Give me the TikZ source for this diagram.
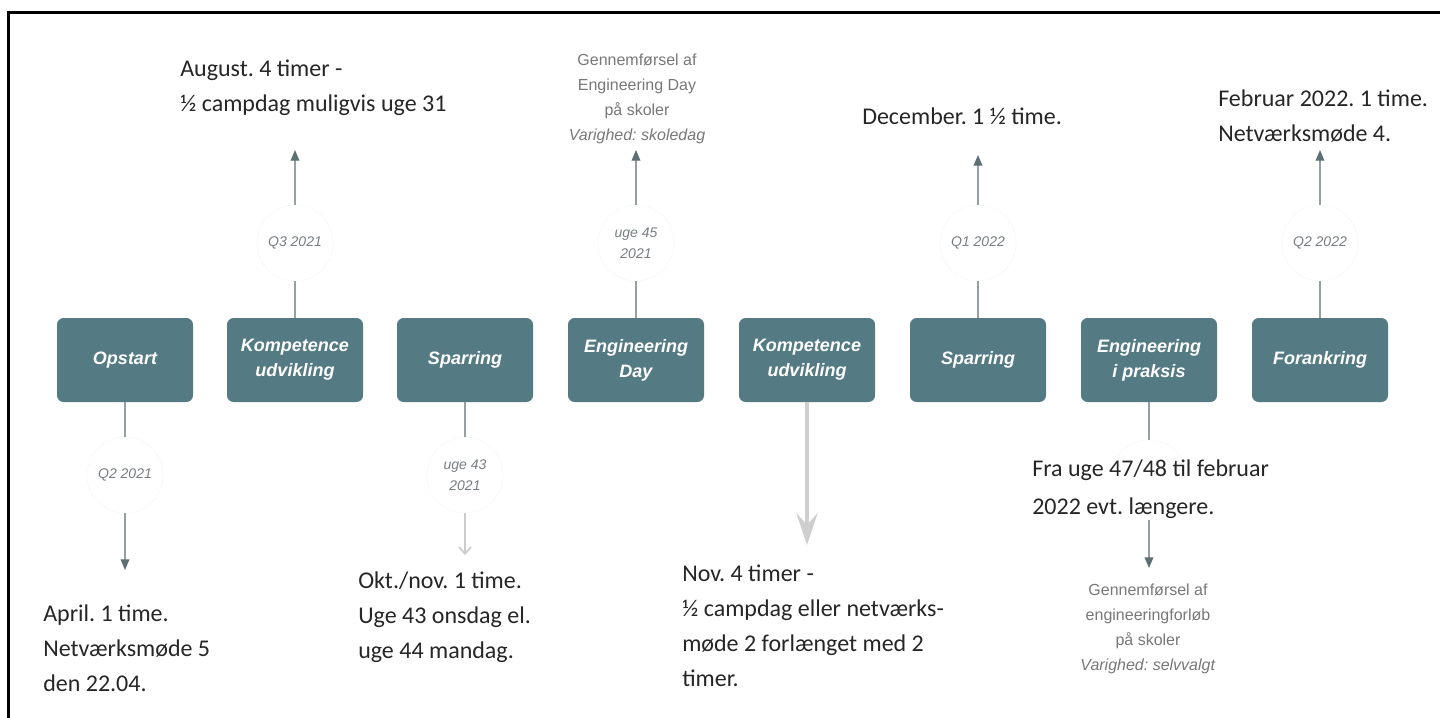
\documentclass[tikz,border=0pt]{standalone}
\usepackage{fontspec}
\setmainfont{Carlito}
\newfontfamily\arialf{Liberation Sans}
\usetikzlibrary{arrows.meta}
\frenchspacing
\definecolor{phasec}{RGB}{84,122,132}
\definecolor{tipc}{RGB}{92,112,116}
\definecolor{linec}{RGB}{150,160,162}
\definecolor{notegray}{RGB}{120,120,120}
\definecolor{circgray}{RGB}{120,126,130}
\begin{document}
\begin{tikzpicture}[x=0.75pt,y=-0.75pt,
  phase/.style={rectangle, rounded corners=5pt, fill=phasec, minimum width=102pt, minimum height=63pt,
    text=white, font=\arialf\bfseries\itshape\fontsize{13.5}{18.75}\selectfont, align=center, inner sep=0pt},
  circ/.style={circle, minimum size=57pt, draw=gray!18, densely dotted, inner sep=0pt,
    font=\arialf\itshape\fontsize{10.5}{16}\selectfont, text=circgray, align=center},
  note/.style={anchor=north west, align=left, inner sep=0pt, font=\fontsize{18}{26.25}\selectfont, text=black!85},
  gnote/.style={anchor=north, align=center, inner sep=0pt, font=\arialf\fontsize{12}{18.75}\selectfont, text=notegray},
  conn/.style={draw=linec, line width=1pt},
  arr/.style={conn, -{Triangle[length=8pt,width=6.5pt,color=tipc]}},
  larr/.style={draw=gray!40, line width=1.3pt, -{Straight Barb[length=5pt,width=9pt]}},
  barr/.style={draw=gray!38, line width=3pt, -{Stealth[length=24pt,width=16pt,inset=9pt]}}
]
\useasboundingbox (0,0) rectangle (1440,718);
\fill[white] (0,0) rectangle (1440,718);
\draw[line width=2.25pt] (8,720) -- (8,12) -- (1442,12);

% phases
\node[phase] (p1) at (125,360) {Opstart};
\node[phase] (p2) at (295,360) {Kompetence\\udvikling};
\node[phase] (p3) at (465,360) {Sparring};
\node[phase] (p4) at (636,360) {Engineering\\Day};
\node[phase] (p5) at (807,360) {Kompetence\\udvikling};
\node[phase] (p6) at (978,360) {Sparring};
\node[phase] (p7) at (1149,360) {Engineering\\i praksis};
\node[phase] (p8) at (1320,360) {Forankring};

% circles
\node[circ] (c1) at (125,475) {Q2 2021};
\node[circ] (c2) at (295,243) {Q3 2021};
\node[circ] (c3) at (465,475) {uge 43\\2021};
\node[circ] (c4) at (636,243) {uge 45\\2021};
\node[circ] (c6) at (978,243) {Q1 2022};
\node[circ] (c7) at (1149,478) {};
\node[circ] (c8) at (1320,243) {Q2 2022};

% arrow end points
\coordinate (t1) at (125,570);
\coordinate (t2) at (295,150);
\coordinate (t3) at (465,555);
\coordinate (t4) at (636,150);
\coordinate (t5) at (807,545);
\coordinate (t6) at (978,155);
\coordinate (s7) at (1149,520);
\coordinate (t7) at (1149,568);
\coordinate (t8) at (1320,150);

% connectors
\draw[conn] (p1.south) -- (c1.north);
\draw[arr] (c1.south) -- (t1);
\draw[conn] (p2.north) -- (c2.south);
\draw[arr] (c2.north) -- (t2);
\draw[conn] (p3.south) -- (c3.north);
\draw[larr] (c3.south) -- (t3);
\draw[conn] (p4.north) -- (c4.south);
\draw[arr] (c4.north) -- (t4);
\draw[barr] (p5.south) -- (t5);
\draw[conn] (p6.north) -- (c6.south);
\draw[arr] (c6.north) -- (t6);
\draw[conn] (p7.south) -- (c7.north);
\draw[arr] (s7) -- (t7);
\draw[conn] (p8.north) -- (c8.south);
\draw[arr] (c8.north) -- (t8);

% black notes
\node[note] (n2) at (180,60) {August. 4 timer -\\½ campdag muligvis uge 31};
\node[note] (n1) at (43,605) {April. 1 time.\\Netværksmøde 5\\den 22.04.};
\node[note] (n3) at (358,572) {Okt./nov. 1 time.\\Uge 43 onsdag el.\\uge 44 mandag.};
\node[note] (n5) at (682,565) {Nov. 4 timer -\\½ campdag eller netværks-\\møde 2 forlænget med 2\\timer.};
\node[note] (n6) at (862,108) {December. 1 ½ time.};
\node[note, fill=white, font=\fontsize{18}{28.5}\selectfont] (n7) at (1032,460) {Fra uge 47/48 til februar\\2022 evt. længere.};
\node[note] (n8) at (1218,90) {Februar 2022. 1 time.\\Netværksmøde 4.};

% gray notes
\node[gnote] (g4) at (637,54) {Gennemførsel af\\Engineering Day\\på skoler\\\textit{Varighed: skoledag}};
\node[gnote] (g7) at (1148,584) {Gennemførsel af\\engineeringforløb\\på skoler\\\textit{Varighed: selvvalgt}};
\end{tikzpicture}
\end{document}
